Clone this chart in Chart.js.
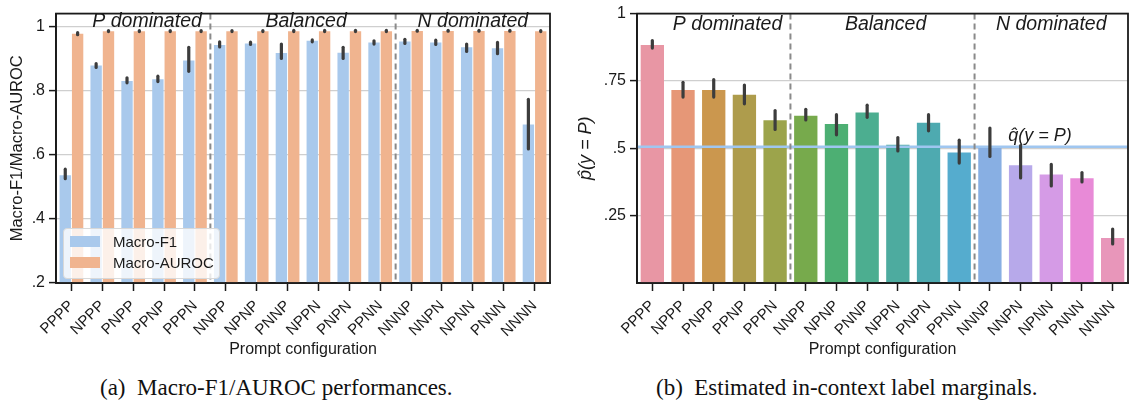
<!DOCTYPE html>
<html>
<head>
<meta charset="utf-8">
<script src="https://cdn.jsdelivr.net/npm/chart.js@4.4.1/dist/chart.umd.min.js"></script>
<style>
  html, body { margin: 0; padding: 0; background: #fff; }
  body { width: 1136px; height: 405px; position: relative; overflow: hidden; font-family: 'Liberation Sans', Arial, sans-serif; }
  .panel { position: absolute; top: 0; height: 360px; }
  #izq { left: 0; width: 560px; }
  #der { left: 570px; width: 566px; }
  .caption { position: absolute; top: 375px; font-family: 'Liberation Serif', 'Times New Roman', serif; font-size: 23px; color: #111; white-space: pre; }
  .leyenda { position: absolute; left: 63px; top: 228px; width: 155px; height: 49px; background: rgba(255,255,255,0.8); border: 1px solid #d8d8d8; border-radius: 4px; font-size: 15px; color: #1a1a1a; }
  .leyenda div { position: absolute; left: 49px; }
  .leyenda span { position: absolute; left: -43px; top: 3px; width: 30px; height: 11px; }
</style>
</head>
<body>
<div class="panel" id="izq"><canvas id="chart-f1"></canvas></div>
<div class="panel" id="der"><canvas id="chart-marg"></canvas></div>
<div class="leyenda">
  <div style="top:4px"><span style="background:#a9c9ec"></span>Macro-F1</div>
  <div style="top:25px"><span style="background:#f0b48f"></span>Macro-AUROC</div>
</div>
<div class="caption" style="left:100px">(a)  Macro-F1/AUROC performances.</div>
<div class="caption" style="left:656px">(b)  Estimated in-context label marginals.</div>

<script>
// ── datos ──
const CONFIGS = ['PPPP', 'NPPP', 'PNPP', 'PPNP', 'PPPN', 'NNPP', 'NPNP', 'PNNP', 'NPPN', 'PNPN', 'PPNN', 'NNNP', 'NNPN', 'NPNN', 'PNNN', 'NNNN'];

// (a) Macro-F1 / Macro-AUROC
const F1     = [0.536, 0.878, 0.830, 0.835, 0.894, 0.942, 0.947, 0.917, 0.955, 0.918, 0.950, 0.953, 0.950, 0.935, 0.932, 0.694];
const F1_LO  = [0.525, 0.872, 0.824, 0.828, 0.860, 0.936, 0.944, 0.900, 0.952, 0.900, 0.945, 0.947, 0.944, 0.922, 0.915, 0.618];
const F1_HI  = [0.555, 0.884, 0.840, 0.845, 0.935, 0.952, 0.951, 0.945, 0.958, 0.935, 0.955, 0.960, 0.957, 0.945, 0.950, 0.773];
const AUROC  = [0.977, 0.985, 0.985, 0.985, 0.985, 0.985, 0.985, 0.985, 0.985, 0.985, 0.985, 0.986, 0.986, 0.986, 0.986, 0.985];
const AUROC_LO = [0.974, 0.984, 0.984, 0.984, 0.984, 0.984, 0.984, 0.984, 0.984, 0.984, 0.984, 0.985, 0.985, 0.985, 0.985, 0.984];
const AUROC_HI = [0.981, 0.987, 0.987, 0.987, 0.987, 0.987, 0.987, 0.988, 0.988, 0.988, 0.988, 0.988, 0.988, 0.988, 0.988, 0.987];
const TICKS_A = [0.2, 0.4, 0.6, 0.8, 1];

// (b) marginal estimada p̂(y = P)
const MARG    = [0.883, 0.716, 0.716, 0.699, 0.604, 0.621, 0.590, 0.633, 0.513, 0.595, 0.484, 0.504, 0.437, 0.403, 0.389, 0.167];
const MARG_LO = [0.872, 0.690, 0.690, 0.665, 0.570, 0.605, 0.550, 0.615, 0.490, 0.565, 0.445, 0.470, 0.390, 0.360, 0.375, 0.145];
const MARG_HI = [0.900, 0.745, 0.755, 0.735, 0.640, 0.645, 0.625, 0.660, 0.540, 0.625, 0.530, 0.575, 0.510, 0.440, 0.410, 0.200];
const Q_HAT = 0.506;
const TICKS_B = [0.25, 0.5, 0.75, 1];
const COLORES_B = ['#e896a4', '#e69777', '#cb974e', '#ae9c4c', '#9ca44b', '#77aa4c', '#4daf73', '#4cae90',
                   '#4dab9f', '#4eaab0', '#55acce', '#88afe3', '#b7a9ea', '#d59be6', '#e88ad7', '#e896ba'];

// grupos de prompts: [texto, posición (índice de categoría)]
const GRUPOS = [['P dominated', 2.45], ['Balanced', 7.6], ['N dominated', 13]];
const SEPARADORES = [4.5, 10.5];

const FUENTE = "'Liberation Sans', Arial, sans-serif";
const TINTA = '#1a1a1a';

// barras de error + marco + separadores + etiquetas de grupo
const pluginDecoracion = {
  id: 'decoracion',
  afterDatasetsDraw(chart, args, opts) {
    const { ctx, chartArea: a, scales: { x, y } } = chart;
    ctx.save();
    // línea horizontal q̂
    if (opts.qHat != null) {
      const yq = y.getPixelForValue(opts.qHat);
      ctx.strokeStyle = '#9fc6f0';
      ctx.lineWidth = 2.5;
      ctx.beginPath(); ctx.moveTo(a.left, yq); ctx.lineTo(a.right, yq); ctx.stroke();
      ctx.fillStyle = TINTA;
      ctx.font = `italic 18px ${FUENTE}`;
      ctx.textAlign = 'left'; ctx.textBaseline = 'alphabetic';
      ctx.fillText('q\u0302(y = P)', x.getPixelForValue(11.6), yq - 6);
    }
    // errores
    chart.data.datasets.forEach((ds, di) => {
      if (!ds.errLo) return;
      const meta = chart.getDatasetMeta(di);
      ctx.strokeStyle = '#3c3c3c';
      ctx.lineWidth = 3.2;
      ctx.lineCap = 'round';
      meta.data.forEach((bar, i) => {
        ctx.beginPath();
        ctx.moveTo(bar.x, y.getPixelForValue(ds.errLo[i]));
        ctx.lineTo(bar.x, y.getPixelForValue(ds.errHi[i]));
        ctx.stroke();
      });
    });
    ctx.lineCap = 'butt';
    // separadores punteados
    ctx.strokeStyle = '#8a8a8a';
    ctx.lineWidth = 2;
    ctx.setLineDash([6, 4]);
    SEPARADORES.forEach(s => {
      const xs = (x.getPixelForValue(Math.floor(s)) + x.getPixelForValue(Math.ceil(s))) / 2;
      ctx.beginPath(); ctx.moveTo(xs, a.top); ctx.lineTo(xs, a.bottom); ctx.stroke();
    });
    ctx.setLineDash([]);
    // marco completo
    ctx.strokeStyle = TINTA;
    ctx.lineWidth = 1.8;
    ctx.strokeRect(a.left, a.top, a.right - a.left, a.bottom - a.top);
    // etiquetas de grupo
    ctx.fillStyle = TINTA;
    ctx.font = `italic 19.5px ${FUENTE}`;
    ctx.textAlign = 'center'; ctx.textBaseline = 'middle';
    GRUPOS.forEach(([t, pos]) => ctx.fillText(t, x.getPixelForValue(pos), a.top + opts.grupoY));
    ctx.restore();
  },
};

function escalaX(alto) {
  return {
    grid: { drawOnChartArea: false, offset: false, tickLength: 8, tickColor: TINTA, tickWidth: 1.5 },
    border: { color: TINTA, width: 1.8 },
    ticks: { color: TINTA, autoSkip: false, minRotation: 45, maxRotation: 45, padding: 6, font: { family: FUENTE, size: 15 } },
    title: { display: true, text: 'Prompt configuration', color: TINTA, font: { family: FUENTE, size: 16 }, padding: { top: 0, bottom: 1 } },
    afterFit: (s) => { s.height = alto; },
  };
}

function escalaY(min, max, ticks, titulo, anchoEje, padTitulo, tamTitulo, italica, fmt) {
  return {
    min, max,
    afterBuildTicks: (s) => { s.ticks = ticks.map(v => ({ value: v })); },
    grid: { color: '#cfcfcf', lineWidth: 1.2, tickLength: 7, tickColor: TINTA, tickWidth: 1.5 },
    border: { color: TINTA, width: 1.8 },
    ticks: { color: TINTA, padding: 4, font: { family: FUENTE, size: 16 }, callback: fmt },
    title: { display: true, text: titulo, color: TINTA, font: { family: FUENTE, size: tamTitulo, style: italica ? 'italic' : 'normal' }, padding: { top: padTitulo, bottom: 0 } },
    afterFit: (s) => { s.width = anchoEje; },
  };
}

const sinCero = (v) => (v === 1 ? '1' : String(v).replace(/^0/, ''));

// ── (a) Macro-F1 / Macro-AUROC ──
new Chart(document.getElementById('chart-f1'), {
  type: 'bar',
  data: {
    labels: CONFIGS,
    datasets: [
      { label: 'Macro-F1', data: F1, errLo: F1_LO, errHi: F1_HI, backgroundColor: '#a9c9ec', categoryPercentage: 0.8, barPercentage: 0.92 },
      { label: 'Macro-AUROC', data: AUROC, errLo: AUROC_LO, errHi: AUROC_HI, backgroundColor: '#f0b48f', categoryPercentage: 0.8, barPercentage: 0.92 },
    ],
  },
  options: {
    responsive: true, maintainAspectRatio: false, animation: false,
    layout: { padding: { left: 0, top: 6, right: 10, bottom: 0 }, autoPadding: false },
    plugins: { legend: { display: false }, tooltip: { enabled: false }, decoracion: { grupoY: 8 } },
    scales: {
      x: escalaX(77),
      y: escalaY(0.2, 1.04, TICKS_A, 'Macro-F1/Macro-AUROC', 56, 8, 16.5, false, sinCero),
    },
  },
  plugins: [pluginDecoracion],
});

// ── (b) marginales estimadas ──
new Chart(document.getElementById('chart-marg'), {
  type: 'bar',
  data: {
    labels: CONFIGS,
    datasets: [
      { data: MARG, errLo: MARG_LO, errHi: MARG_HI, backgroundColor: COLORES_B, categoryPercentage: 0.8, barPercentage: 0.95 },
    ],
  },
  options: {
    responsive: true, maintainAspectRatio: false, animation: false,
    layout: { padding: { left: 0, top: 7, right: 8, bottom: 0 }, autoPadding: false },
    plugins: { legend: { display: false }, tooltip: { enabled: false }, decoracion: { grupoY: 11, qHat: Q_HAT } },
    scales: {
      x: escalaX(77),
      y: escalaY(0, 1, TICKS_B, 'p\u0302(y = P)', 67, 5, 18, true, sinCero),
    },
  },
  plugins: [pluginDecoracion],
});
</script>
</body>
</html>
